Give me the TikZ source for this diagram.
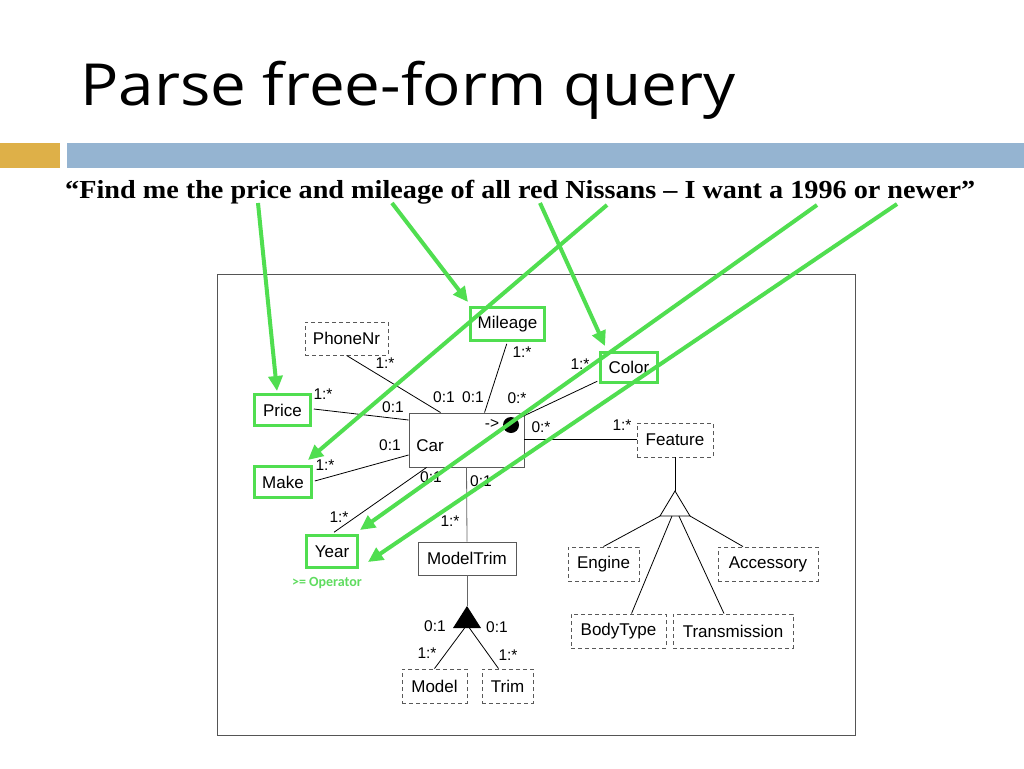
\documentclass[tikz,border=0pt]{standalone}
\usepackage{fontspec}
\usepackage{graphicx}
\setmainfont{Liberation Sans}
\newfontfamily\quotefont{Liberation Serif}
\newfontfamily\titlefont{Open Sans}
\newfontfamily\opfont{Carlito}
\usetikzlibrary{arrows.meta,calc}
\definecolor{gr}{RGB}{80,222,80}
\definecolor{opgr}{RGB}{95,220,95}
\definecolor{barorange}{RGB}{222,176,72}
\definecolor{barblue}{RGB}{149,180,209}
\definecolor{framegray}{RGB}{85,85,85}
\begin{document}
\begin{tikzpicture}[x=1pt,y=-1pt,
  gbox/.style={draw=gr, line width=3.5pt, fill=white, inner sep=0pt, font=\fontsize{17}{19}\selectfont},
  dbox/.style={draw=black!65, dash pattern=on 4pt off 3pt, line width=0.9pt, fill=white, inner sep=0pt, font=\fontsize{17}{19}\selectfont},
  pbox/.style={draw=black!65, line width=0.9pt, fill=white, inner sep=0pt, font=\fontsize{17}{19}\selectfont},
  lbl/.style={font=\fontsize{15.5}{17}\selectfont, inner sep=0pt},
  ln/.style={draw=black, line width=0.8pt},
  garrow/.style={draw=gr, line width=4pt, -{Triangle[length=15pt,width=14pt]}}]
\useasboundingbox (0,0) rectangle (1024,768);
\fill[white] (0,0) rectangle (1024,768);
% slide decoration
\fill[barorange] (0,143) rectangle (60,168);
\fill[barblue] (67,143) rectangle (1024,168);
\node[anchor=base west, inner sep=0pt] (title) at (80,105)
  {\resizebox{655pt}{\height}{\titlefont\fontsize{58}{60}\selectfont Parse free-form query}};
\node[anchor=base west, inner sep=0pt] (quote) at (65,198)
  {\resizebox{910pt}{\height}{\quotefont\bfseries\fontsize{26}{28}\selectfont “Find me the price and mileage of all red Nissans – I want a 1996 or newer”}};
% frame
\node[draw=framegray, line width=1pt, minimum width=638pt, minimum height=461pt, inner sep=0pt] (frame) at (536,504.5) {};
% boxes
\node[pbox, minimum width=115pt, minimum height=54pt] (car) at (466.5,440) {};
\node[inner sep=0pt, font=\fontsize{17}{19}\selectfont] (cartext) at (430,446) {Car};
\node[gbox, minimum width=74pt, minimum height=33pt] (mileage) at (507.5,324) {Mileage};
\node[dbox, minimum width=83pt, minimum height=33pt] (phone) at (346.5,338.5) {PhoneNr};
\node[gbox, minimum width=56pt, minimum height=31pt] (price) at (282.5,410) {Price};
\node[gbox, minimum width=57pt, minimum height=31pt] (make) at (283,482) {Make};
\node[gbox, minimum width=57pt, minimum height=30pt] (color) at (629,367.5) {Color};
\node[dbox, minimum width=76pt, minimum height=34pt] (feature) at (675,440) {Feature};
\node[gbox, minimum width=51pt, minimum height=32pt] (year) at (332,551.5) {Year};
\node[pbox, minimum width=98pt, minimum height=33pt] (modeltrim) at (467,558.5) {ModelTrim};
\node[dbox, minimum width=65pt, minimum height=34pt] (model) at (434.5,686) {Model};
\node[dbox, minimum width=51pt, minimum height=34pt] (trim) at (507.5,686) {Trim};
\node[dbox, minimum width=71pt, minimum height=34pt] (engine) at (603.5,564) {Engine};
\node[dbox, minimum width=100pt, minimum height=34pt] (accessory) at (768,564) {Accessory};
\node[dbox, minimum width=95pt, minimum height=34pt] (bodytype) at (618.5,631) {BodyType};
\node[dbox, minimum width=120pt, minimum height=34pt] (transmission) at (733,631) {Transmission};
\node[font=\opfont\bfseries\fontsize{14}{16}\selectfont, text=opgr, inner sep=0pt] (op) at (327,583) {>= Operator};
% triangles and circle
\coordinate (mta) at (467,606);
\coordinate (mtl) at (453,628);
\coordinate (mtr) at (481,628);
\fill[black] (mta) -- (mtl) -- (mtr) -- cycle;
\coordinate (fta) at (675,491);
\coordinate (ftl) at (660,516);
\coordinate (ftr) at (690,516);
\draw[ln, fill=white] (fta) -- (ftl) -- (ftr) -- cycle;
\node[circle, fill=black, minimum size=16pt, inner sep=0pt] (dot) at (511,425) {};
\node[lbl] (arrowtxt) at (492,424) {->};
% connectors
\draw[ln] ($(phone.south west)+(42,0)$) -- ($(car.north west)+(32,0)$);
\draw[ln] ($(mileage.south west)+(38,1.5)$) -- ($(car.north west)+(76,0)$);
\draw[ln] ($(price.east)+(1.5,-1)$) -- ($(car.west)+(0,-20)$);
\draw[ln] ($(make.east)+(1.5,-1)$) -- ($(car.west)+(0,15)$);
\draw[ln] ($(car.south west)+(18,0)$) -- ($(year.north)+(2,-1.5)$);
\draw[ln, draw=black!60] (car.south) -- (modeltrim.north);
\draw[ln, draw=black!60] (modeltrim.south) -- (mta);
\draw[ln] ($(mtl)!0.45!(mtr)+(-1,0)$) -- ($(model.north)+(0,0)$);
\draw[ln] ($(mtl)!0.55!(mtr)+(1,0)$) -- ($(trim.north)+(-9,0)$);
\draw[ln] (dot.north east) -- ($(color.south west)+(-1.5,-3)$);
\draw[ln] ($(car.east)+(0,-1)$) -- ($(feature.west)+(0,-1)$);
\draw[ln] (feature.south) -- (fta);
\draw[ln] (ftl) -- (engine.north);
\draw[ln] (ftr) -- ($(accessory.north)+(-25,0)$);
\draw[ln] ($(ftl)!0.4!(ftr)$) -- ($(bodytype.north)+(13,0)$);
\draw[ln] ($(ftl)!0.63!(ftr)$) -- ($(transmission.north)+(-9,0)$);
% labels
\node[lbl] (l1) at (385,363) {1:*};
\node[lbl] (l2) at (444,397) {0:1};
\node[lbl] (l3) at (473,397) {0:1};
\node[lbl] (l4) at (522,352) {1:*};
\node[lbl] (l5) at (517,398) {0:*};
\node[lbl] (l6) at (323,394) {1:*};
\node[lbl] (l7) at (393,407) {0:1};
\node[lbl] (l8) at (390,445) {0:1};
\node[lbl] (l9) at (325,465) {1:*};
\node[lbl] (l10) at (431,477) {0:1};
\node[lbl] (l11) at (481,481) {0:1};
\node[lbl] (l12) at (339,517) {1:*};
\node[lbl] (l13) at (450,521) {1:*};
\node[lbl] (l14) at (435,626) {0:1};
\node[lbl] (l15) at (497,627) {0:1};
\node[lbl] (l16) at (427,653) {1:*};
\node[lbl] (l17) at (508,655) {1:*};
\node[lbl] (l18) at (580,364) {1:*};
\node[lbl] (l19) at (541,427) {0:*};
\node[lbl] (l20) at (622,425) {1:*};
% green arrows
\coordinate (wprice) at (258,203);
\coordinate (wmileage) at (392,203);
\coordinate (wred) at (540,203);
\coordinate (wnissans) at (607,205);
\coordinate (w1996) at (817,205);
\coordinate (wnewer) at (897,204);
\coordinate (tprice) at (277,391);
\coordinate (tmileage) at (468,302);
\coordinate (tcolor) at (605,346);
\coordinate (tmake) at (308,460);
\coordinate (tyear) at (360,530);
\coordinate (tyear2) at (368,562);
\draw[garrow] (wprice) -- (tprice);
\draw[garrow] (wmileage) -- (tmileage);
\draw[garrow] (wred) -- (tcolor);
\draw[garrow] (wnissans) -- (tmake);
\draw[garrow] (w1996) -- (tyear);
\draw[garrow] (wnewer) -- (tyear2);
\end{tikzpicture}
\end{document}
